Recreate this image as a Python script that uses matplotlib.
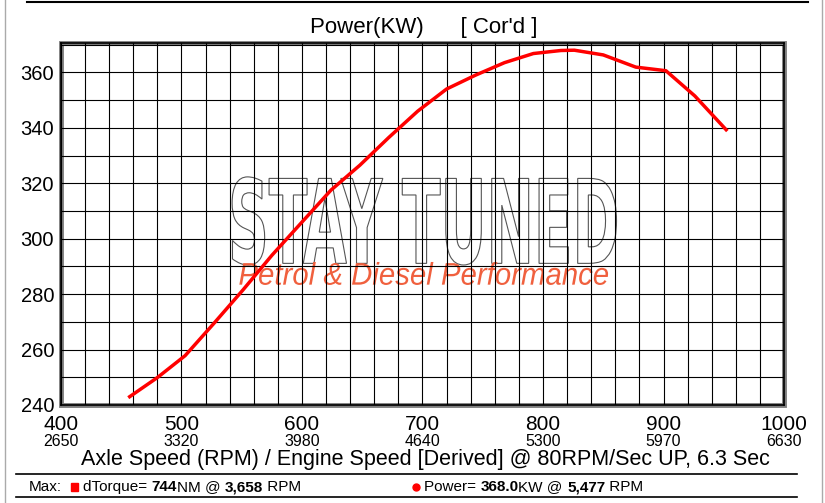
import matplotlib
matplotlib.use('Agg')
import matplotlib.pyplot as plt
from matplotlib.textpath import TextPath
from matplotlib.patches import PathPatch, Rectangle
from matplotlib.font_manager import FontProperties
from matplotlib.transforms import Affine2D, blended_transform_factory
from matplotlib.lines import Line2D

plt.rcParams['font.family'] = ['Liberation Sans', 'DejaVu Sans']

# power curve (axle rpm vs KW)
axle_rpm = [457, 480, 503, 527, 551, 575, 600, 624, 648, 672, 696, 720,
            744, 768, 792, 815, 826, 850, 877, 902, 926, 952]
power_kw = [243.0, 249.9, 257.8, 269.5, 281.5, 294.0, 306.0, 317.5, 326.5,
            336.5, 346.0, 354.0, 359.0, 363.5, 366.8, 367.9, 368.0, 366.3,
            361.9, 360.6, 351.5, 339.3]

axle_ticks = [400, 500, 600, 700, 800, 900, 1000]
engine_ticks = ['2650', '3320', '3980', '4640', '5300', '5970', '6630']
power_ticks = [240, 260, 280, 300, 320, 340, 360]

fig = plt.figure(figsize=(8.25, 5.03), dpi=100)
ax = fig.add_axes([61 / 825, 98 / 503, 723 / 825, 362 / 503])
ax.set_xlim(400, 1000)
ax.set_ylim(240, 370.6)

# grid: every 20 rpm / 10 kw
ax.set_xticks(range(400, 1001, 20), minor=True)
ax.set_yticks(range(240, 371, 10), minor=True)
ax.set_xticks(axle_ticks)
ax.set_yticks(power_ticks)
ax.grid(True, which='both', color='black', lw=0.8)
ax.tick_params(which='both', length=0)
ax.tick_params(axis='y', labelsize=14.5, pad=5)
ax.tick_params(axis='x', labelsize=15, pad=7)
for s in ax.spines.values():
    s.set_color('black')
    s.set_linewidth(1.2)
ax.add_patch(Rectangle((0, 0), 1, 1, transform=ax.transAxes, fill=False,
                       edgecolor='#7f7f7f', lw=3.5, clip_on=False, zorder=0.5))

# engine speed labels under axle ticks
trans = blended_transform_factory(ax.transData, fig.transFigure)
for a, e in zip(axle_ticks, engine_ticks):
    ax.text(a, 1 - 442 / 503, e, transform=trans, ha='center', va='center',
            fontsize=11.5, family=['Liberation Sans Narrow', 'Liberation Sans'])

# watermark
def boxed_text(s, x0, x1, y0, y1, prop, **kw):
    tp = TextPath((0, 0), s, size=1, prop=prop)
    ext = tp.get_extents()
    tr = Affine2D().translate(-ext.x0, -ext.y0).scale(
        (x1 - x0) / ext.width, (y1 - y0) / ext.height).translate(x0, y0)
    ax.add_patch(PathPatch(tr.transform_path(tp), **kw))

boxed_text('STAY TUNED', 542, 861, 290.5, 322.3,
           FontProperties(family='Liberation Sans Narrow', weight='bold'),
           facecolor='white', edgecolor='#555555', lw=0.8, zorder=1)
boxed_text('Petrol & Diesel Performance', 548, 854, 283.3, 291.6,
           FontProperties(family='Liberation Sans', style='italic'),
           facecolor='#f0603e', edgecolor='none', zorder=1.2)

ax.plot(axle_rpm, power_kw, color='#ff0000', lw=2.5, zorder=4,
        solid_joinstyle='round')

fig.text(424 / 825, 1 - 28 / 503, "Power(KW)      [ Cor'd ]", ha='center',
         va='center', fontsize=16)
fig.text(425 / 825, 1 - 460 / 503,
         'Axle Speed (RPM) / Engine Speed [Derived] @ 80RPM/Sec UP, 6.3 Sec',
         ha='center', va='center', fontsize=15.5)

# max summary row
yrow = 1 - 487 / 503
fig.text(29 / 825, yrow, 'Max:', va='center', fontsize=11)
fig.add_artist(Rectangle((71 / 825, yrow - 4 / 503), 7 / 825, 8 / 503,
                         transform=fig.transFigure, color='#ff0000'))
parts = [('dTorque= ', 'normal'), ('744', 'bold'), ('NM @ ', 'normal'),
         ('3,658', 'bold'), (' RPM', 'normal')]
x = 83
for t, w in parts:
    txt = fig.text(x / 825, yrow, t, va='center', fontsize=11, weight=w)
    fig.canvas.draw()
    x += txt.get_window_extent().width
fig.add_artist(Line2D([416 / 825], [yrow], marker='o', ms=5, color='#ff0000',
                      transform=fig.transFigure))
parts = [('Power= ', 'normal'), ('368.0', 'bold'), ('KW @ ', 'normal'),
         ('5,477', 'bold'), (' RPM', 'normal')]
x = 424
for t, w in parts:
    txt = fig.text(x / 825, yrow, t, va='center', fontsize=11, weight=w)
    fig.canvas.draw()
    x += txt.get_window_extent().width

# page frame lines
for y in (474, 497):
    fig.add_artist(Line2D([16 / 825, 797 / 825], [1 - y / 503] * 2, color='black', lw=1.2))
fig.add_artist(Line2D([27 / 825, 808 / 825], [1 - 2 / 503] * 2, color='black', lw=1.5))
fig.add_artist(Line2D([5 / 825] * 2, [0, 1], color='#aaaaaa', lw=1))
fig.add_artist(Line2D([822 / 825] * 2, [0, 1], color='#aaaaaa', lw=1))

fig.savefig('out.png', dpi=100)
